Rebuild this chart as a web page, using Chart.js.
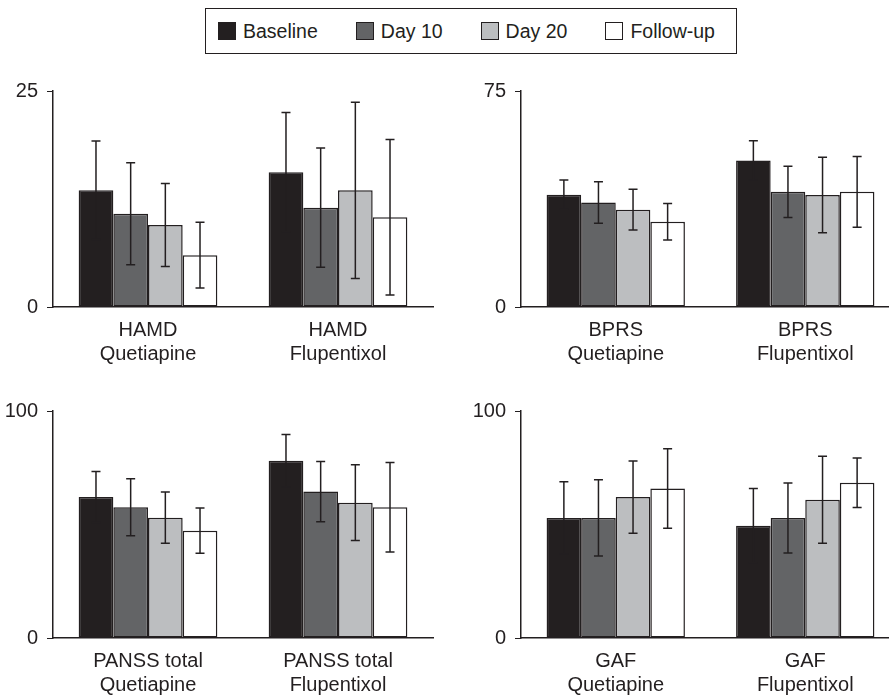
<!DOCTYPE html>
<html lang="en">
<head>
<meta charset="UTF-8">
<title>Scores by visit</title>
<style>
    * { margin: 0; padding: 0; }
    body {
        width: 889px; height: 699px; overflow: hidden;
        position: relative; background: #fff;
        font-family: "Liberation Sans", Arial, sans-serif; color: #231f20;
    }
    canvas { position: absolute; }
    #legend {
        position: absolute; left: 205px; top: 8px; width: 532px; height: 46px;
        border: 1.5px solid #231f20; display: flex; align-items: center;
        padding-left: 12px; box-sizing: border-box; font-size: 19.5px;
        white-space: nowrap;
    }
    #legend .item { display: flex; align-items: center; margin-right: 38px; flex-shrink: 0; }
    #legend .box {
        width: 16px; height: 16px; border: 1.5px solid #231f20; margin-right: 7px;
    }
</style>
</head>
<body>
<div id="legend"></div>
<canvas id="p1" width="445" height="300" style="left:0;top:70px"></canvas>
<canvas id="p2" width="455" height="300" style="left:445px;top:70px"></canvas>
<canvas id="p3" width="445" height="329" style="left:0;top:370px"></canvas>
<canvas id="p4" width="455" height="329" style="left:445px;top:370px"></canvas>

<script src="https://cdn.jsdelivr.net/npm/chart.js@4/dist/chart.umd.min.js"></script>
<script>
    // groups on the x axis, visits as series
    var groups = ['Quetiapine', 'Flupentixol'];
    var series = ['Baseline', 'Day 10', 'Day 20', 'Follow-up'];
    var colors = ['#231f20', '#636466', '#bcbec0', '#ffffff'];

    // one row per visit: [Quetiapine, Flupentixol]
    var hamdMean = [[13.5, 15.6], [10.8, 11.5], [9.5, 13.5], [6.0, 10.4]];
    var hamdSd = [[5.7, 6.9], [5.9, 6.9], [4.8, 10.2], [3.8, 9.0]];

    var bprsMean = [[39.0, 50.9], [36.3, 40.0], [33.8, 38.9], [29.6, 40.0]];
    var bprsSd = [[5.1, 6.8], [7.2, 8.9], [7.1, 13.1], [6.3, 12.3]];

    var panssMean = [[62.1, 78.1], [57.6, 64.5], [53.0, 59.6], [47.3, 57.6]];
    var panssSd = [[11.2, 11.6], [12.6, 13.3], [11.3, 16.7], [10.0, 19.7]];

    var gafMean = [[52.9, 49.5], [52.9, 52.9], [62.1, 60.9], [65.9, 68.4]];
    var gafSd = [[15.9, 16.4], [16.8, 15.4], [15.9, 19.2], [17.5, 10.9]];

    var yMax = { HAMD: 25, BPRS: 75, 'PANSS total': 100, GAF: 100 };

    var ink = '#231f20';
    Chart.defaults.font.family = '"Liberation Sans", Arial, sans-serif';
    Chart.defaults.font.size = 20;
    Chart.defaults.color = ink;

    // legend
    var legend = document.getElementById('legend');
    series.forEach(function (name, i) {
        var item = document.createElement('div');
        item.className = 'item';
        var box = document.createElement('span');
        box.className = 'box';
        box.style.background = colors[i];
        var txt = document.createElement('span');
        txt.textContent = name;
        item.appendChild(box);
        item.appendChild(txt);
        legend.appendChild(item);
    });

    // error bars (mean +/- sd) drawn on top of the bars
    var errorBars = {
        id: 'errorBars',
        afterDatasetsDraw: function (chart) {
            var ctx = chart.ctx;
            var y = chart.scales.y;
            chart.data.datasets.forEach(function (ds, i) {
                chart.getDatasetMeta(i).data.forEach(function (bar, j) {
                    var top = y.getPixelForValue(ds.data[j] + ds.sd[j]);
                    var bot = y.getPixelForValue(ds.data[j] - ds.sd[j]);
                    ctx.save();
                    ctx.strokeStyle = ink;
                    ctx.lineWidth = 1.5;
                    ctx.beginPath();
                    ctx.moveTo(bar.x, top); ctx.lineTo(bar.x, bot);
                    ctx.moveTo(bar.x - 4.5, top); ctx.lineTo(bar.x + 4.5, top);
                    ctx.moveTo(bar.x - 4.5, bot); ctx.lineTo(bar.x + 4.5, bot);
                    ctx.stroke();
                    ctx.restore();
                });
            });
        }
    };

    function panel(id, measure, mean, sd, yWidth, xHeight, padTop, padRight) {
        new Chart(document.getElementById(id), {
            type: 'bar',
            data: {
                labels: groups.map(function (g) { return [measure, g]; }),
                datasets: series.map(function (name, i) {
                    return {
                        label: name,
                        data: mean[i],
                        sd: sd[i],
                        backgroundColor: colors[i],
                        borderColor: ink,
                        borderWidth: 1.5,
                        borderSkipped: false,
                        barPercentage: 1,
                        categoryPercentage: 0.73
                    };
                })
            },
            options: {
                responsive: false,
                animation: false,
                layout: { padding: { top: padTop, right: padRight, left: 0, bottom: 0 } },
                plugins: { legend: { display: false }, tooltip: { enabled: false } },
                scales: {
                    x: {
                        grid: { display: false, drawTicks: false },
                        border: { display: true, color: ink, width: 1.5 },
                        ticks: { padding: 11, font: { size: 20, lineHeight: 1.2 } },
                        afterFit: function (s) { s.height = xHeight; }
                    },
                    y: {
                        min: 0,
                        max: yMax[measure],
                        grid: { drawOnChartArea: false, drawTicks: true, tickLength: 6, color: ink, lineWidth: 1 },
                        border: { display: true, color: ink, width: 1.5 },
                        ticks: { stepSize: yMax[measure], padding: 9 },
                        afterFit: function (s) { s.width = yWidth; }
                    }
                }
            },
            plugins: [errorBars]
        });
    }

    panel('p1', 'HAMD', hamdMean, hamdSd, 53, 63, 17, 12);
    panel('p2', 'BPRS', bprsMean, bprsSd, 76, 63, 17, 0);
    panel('p3', 'PANSS total', panssMean, panssSd, 53, 61, 41, 12);
    panel('p4', 'GAF', gafMean, gafSd, 76, 61, 41, 0);
</script>
</body>
</html>
